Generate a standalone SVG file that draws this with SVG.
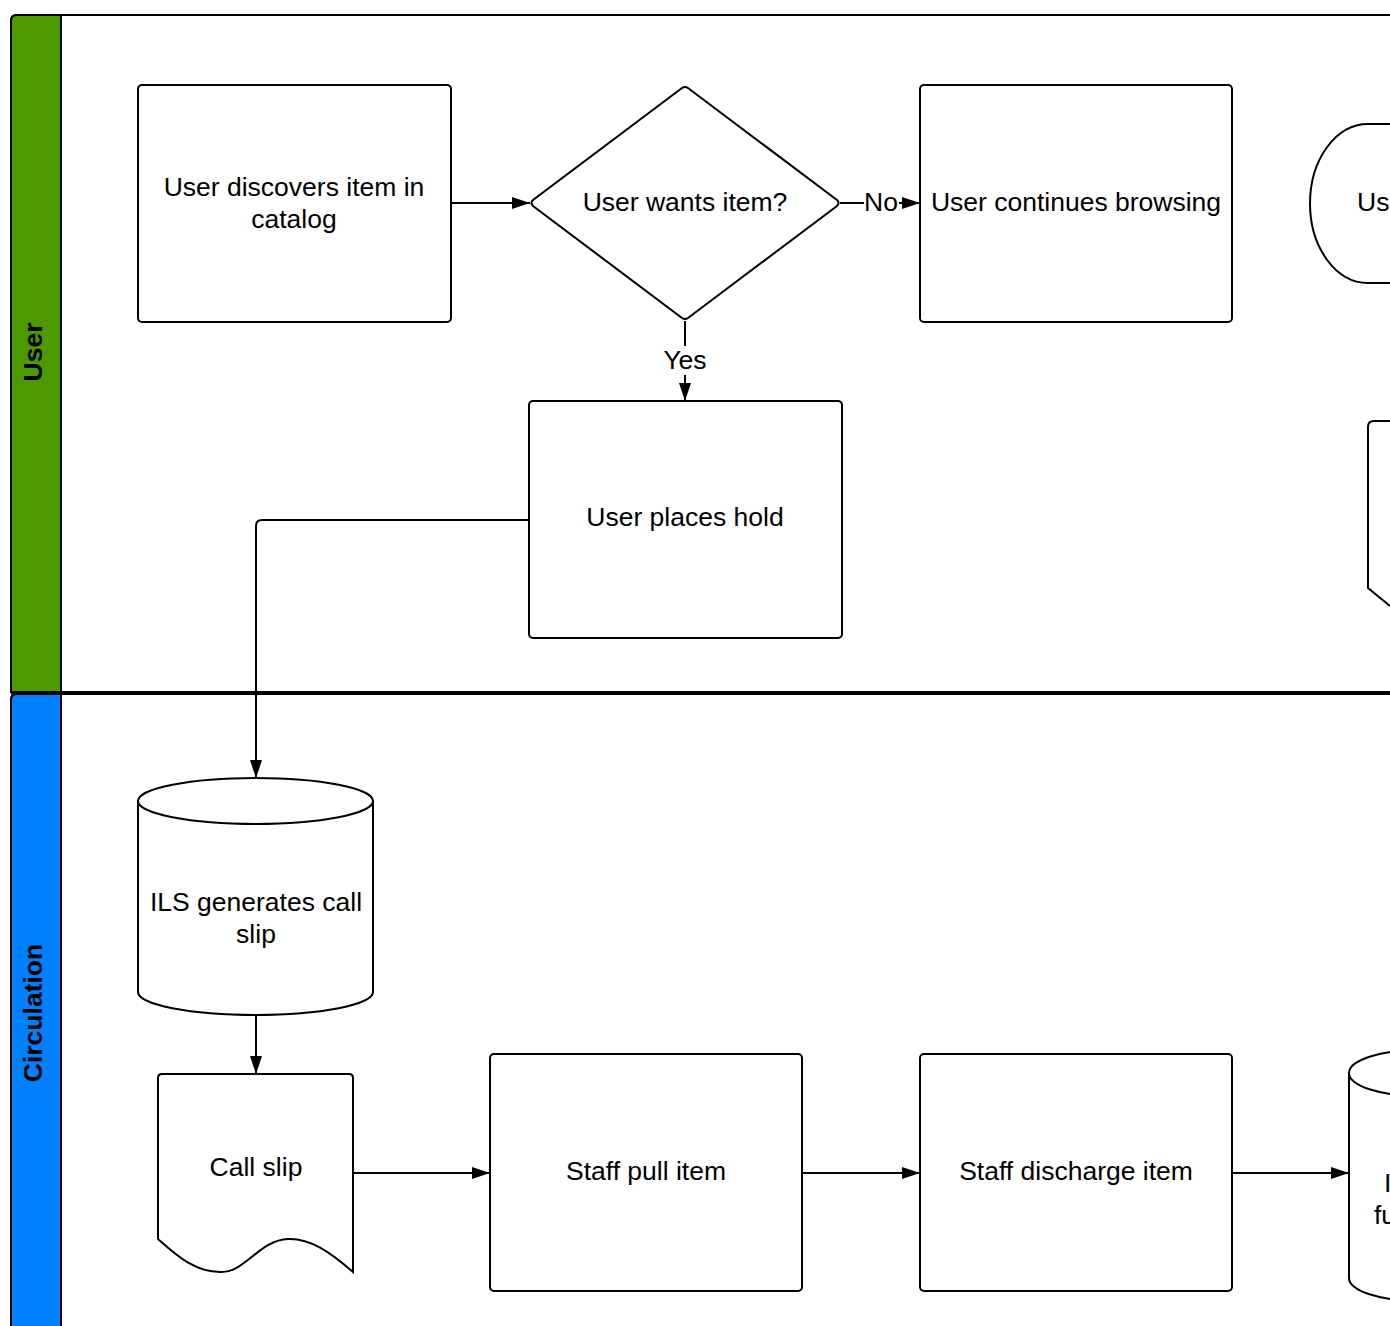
<svg xmlns="http://www.w3.org/2000/svg" width="1390" height="1326" viewBox="0 0 1390 1326">
<style>
.shape{fill:#fff;stroke:#000;stroke-width:2}
.t{font-family:"Liberation Sans",Arial,sans-serif;font-size:26.5px;fill:#000;text-anchor:middle;dominant-baseline:central}
.lane{font-family:"Liberation Sans",Arial,sans-serif;font-size:26.5px;font-weight:bold;fill:#000;text-anchor:middle;dominant-baseline:central}
.c{fill:none;stroke:#000;stroke-width:2}
</style>
<defs>
<marker id="ah" viewBox="0 0 18 12" refX="18" refY="6" markerWidth="18" markerHeight="12" markerUnits="userSpaceOnUse" orient="auto">
<path d="M0,0 L18,6 L0,12 Z" fill="#000"/>
</marker>
</defs>
<g id="lane-user">
<path d="M11,692 L11,21 Q11,15 17,15 L1392,15 L1392,692 Z" fill="#fff" stroke="#000" stroke-width="2"/>
<path d="M11,692 L11,21 Q11,15 17,15 L61,15 L61,692 Z" fill="#4c9900" stroke="#000" stroke-width="2"/>
<text class="lane" transform="translate(33,352) rotate(-90)">User</text>
</g>
<g id="lane-circulation">
<path d="M11,1330 L11,700 Q11,694 17,694 L1392,694 L1392,1330 Z" fill="#fff" stroke="#000" stroke-width="2"/>
<path d="M11,1330 L11,700 Q11,694 17,694 L61,694 L61,1330 Z" fill="#0080ff" stroke="#000" stroke-width="2"/>
<text class="lane" transform="translate(33,1013) rotate(-90)">Circulation</text>
<line x1="11" y1="693" x2="1392" y2="693" stroke="#000" stroke-width="3"/>
</g>
<g id="connectors">
<line class="c" x1="451" y1="203" x2="530" y2="203" marker-end="url(#ah)"/>
<line class="c" x1="840" y1="203" x2="864" y2="203"/>
<line class="c" x1="899" y1="203" x2="920" y2="203" marker-end="url(#ah)"/>
<text class="t" x="881" y="202">No</text>
<line class="c" x1="685" y1="321" x2="685" y2="346"/>
<line class="c" x1="685" y1="375" x2="685" y2="401" marker-end="url(#ah)"/>
<text class="t" x="685" y="360">Yes</text>
<path class="c" d="M529,520 L262,520 Q256,520 256,526 L256,778" marker-end="url(#ah)"/>
<line class="c" x1="256" y1="1015" x2="256" y2="1074" marker-end="url(#ah)"/>
<line class="c" x1="353" y1="1173" x2="490" y2="1173" marker-end="url(#ah)"/>
<line class="c" x1="802" y1="1173" x2="920" y2="1173" marker-end="url(#ah)"/>
<line class="c" x1="1232" y1="1173" x2="1349" y2="1173" marker-end="url(#ah)"/>
</g>
<g id="node-discover">
<rect class="shape" x="138" y="85" width="313" height="237" rx="4"/>
<text class="t" x="294" y="187">User discovers item in</text>
<text class="t" x="294" y="219">catalog</text>
</g>
<g id="node-wants">
<path class="shape" d="M682,88 Q685,86 688,88 L837,200 Q840,203 837,206 L688,318 Q685,320 682,318 L533,206 Q530,203 533,200 Z"/>
<text class="t" x="685" y="202">User wants item?</text>
</g>
<g id="node-browsing">
<rect class="shape" x="920" y="85" width="312" height="237" rx="4"/>
<text class="t" x="1076" y="202">User continues browsing</text>
</g>
<g id="node-terminator">
<path class="shape" d="M1395,124 L1368,124 A58,79.5 0 0 0 1368,283 L1395,283"/>
<text class="t" x="1357" y="202" style="text-anchor:start">Us</text>
</g>
<g id="node-offpage">
<path class="shape" d="M1395,421 L1374,421 Q1368,421 1368,427 L1368,588 L1390,606"/>
</g>
<g id="node-hold">
<rect class="shape" x="529" y="401" width="313" height="237" rx="4"/>
<text class="t" x="685" y="517">User places hold</text>
</g>
<g id="node-ils">
<path class="shape" d="M138,801 A117.5,23 0 0 1 373,801 L373,992 A117.5,23 0 0 1 138,992 Z"/>
<path class="c" d="M138,801 A117.5,23 0 0 0 373,801"/>
<text class="t" x="256" y="902">ILS generates call</text>
<text class="t" x="256" y="934">slip</text>
</g>
<g id="node-callslip">
<path class="shape" d="M162,1074 L349,1074 Q353,1074 353,1078 L353,1272 C330,1252 310,1238 288,1239 C260,1240 245,1272 222,1272 C195,1273 175,1254 158,1239 L158,1078 Q158,1074 162,1074 Z"/>
<text class="t" x="256" y="1167">Call slip</text>
</g>
<g id="node-pull">
<rect class="shape" x="490" y="1054" width="312" height="237" rx="4"/>
<text class="t" x="646" y="1171">Staff pull item</text>
</g>
<g id="node-discharge">
<rect class="shape" x="920" y="1054" width="312" height="237" rx="4"/>
<text class="t" x="1076" y="1171">Staff discharge item</text>
</g>
<g id="node-cyl2">
<path class="shape" d="M1349,1073 A70,23 0 0 1 1489,1073 L1489,1278 A70,23 0 0 1 1349,1278 Z"/>
<path class="c" d="M1349,1073 A70,23 0 0 0 1489,1073"/>
<text class="t" x="1384" y="1183" style="text-anchor:start">I</text>
<text class="t" x="1374" y="1215" style="text-anchor:start">fu</text>
</g>
</svg>
